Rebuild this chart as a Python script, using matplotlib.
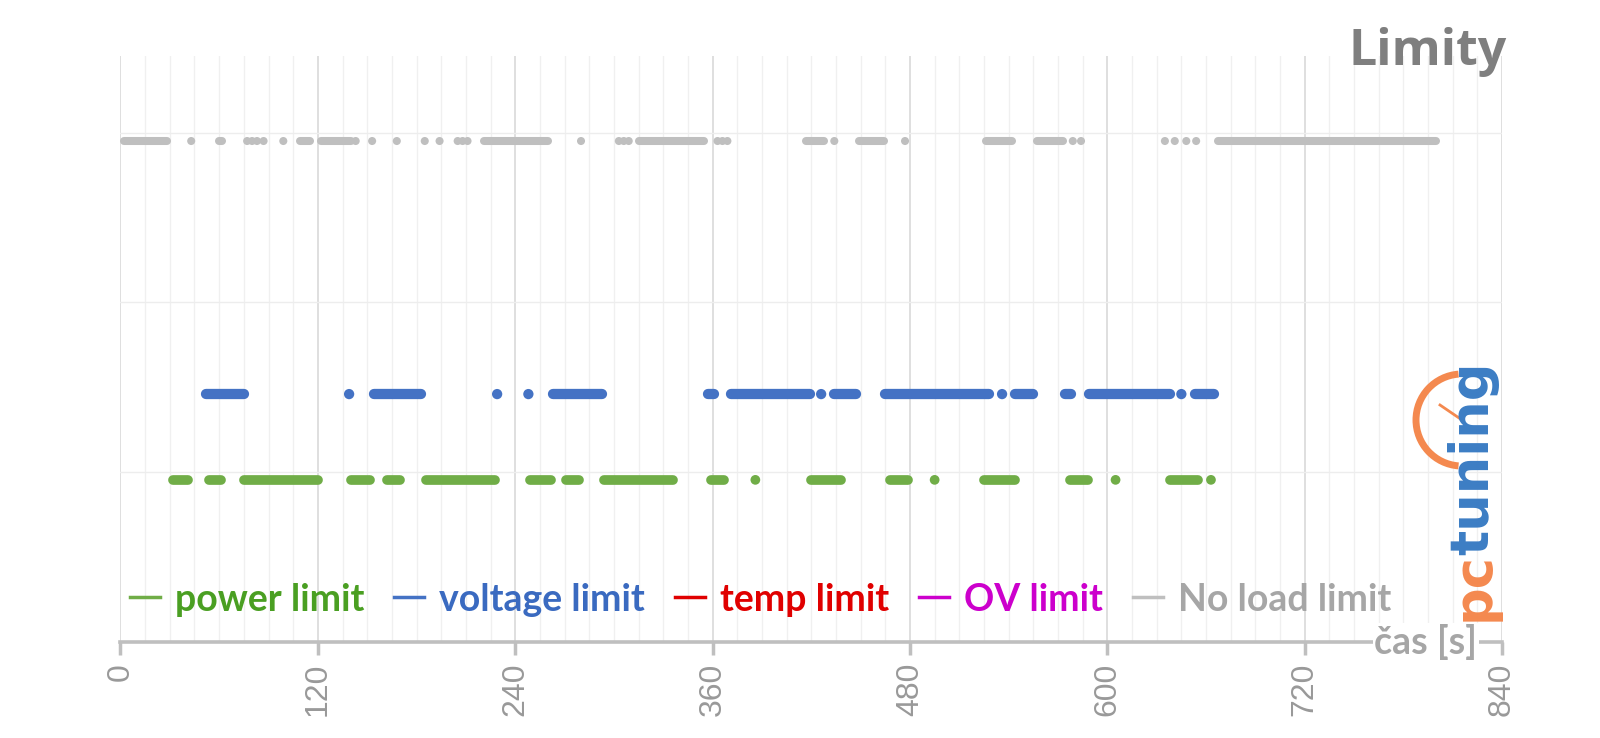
import numpy as np
import matplotlib.pyplot as plt
from matplotlib.lines import Line2D
from matplotlib.patches import Arc

# úseky (start, konec) v sekundách, kdy byl limit aktivní
power_runs = [(32, 41), (54, 61), (75, 120), (140, 152), (162, 170), (186, 228),
              (249, 262), (271, 279), (294, 336), (359, 367), (386, 386),
              (420, 438), (468, 479), (495, 495), (525, 544), (577, 588),
              (605, 605), (638, 655), (663, 663)]
voltage_runs = [(52, 75), (139, 139), (154, 183), (229, 229), (248, 248),
                (263, 293), (357, 361), (371, 419), (426, 426), (434, 447),
                (465, 528), (536, 536), (544, 555), (574, 578), (589, 638),
                (645, 645), (653, 665)]
noload_runs = [(2, 28), (43, 43), (60, 62), (77, 77), (80, 80), (83, 83), (87, 87),
               (99, 99), (109, 115), (122, 140), (143, 143), (153, 153), (168, 168),
               (185, 185), (194, 194), (205, 205), (208, 208), (211, 211),
               (221, 260), (280, 280), (303, 303), (306, 306), (309, 309),
               (315, 355), (363, 363), (366, 366), (369, 369), (417, 428),
               (434, 434), (449, 464), (477, 477), (526, 542), (557, 573),
               (579, 579), (584, 584), (635, 635), (641, 641), (648, 648),
               (654, 654), (667, 800)]
temp_runs = []
ov_runs = []

series_names = ["power limit", "voltage limit", "temp limit", "OV limit", "No load limit"]
series_runs = [power_runs, voltage_runs, temp_runs, ov_runs, noload_runs]
series_y = [0.955, 1.46, 2.0, 2.5, 2.95]
line_colors = ["#70AD47", "#4472C4", "#E00000", "#CC00CC", "#BFBFBF"]
text_colors = ["#4A9F22", "#3A6AC0", "#E00000", "#CC00CC", "#A6A6A6"]
dot_size = [7.0, 7.4, 7.0, 7.0, 5.8]

x_ticks = [0, 120, 240, 360, 480, 600, 720, 840]

fig = plt.figure(figsize=(16, 7.38), dpi=100)
ax = fig.add_axes([0.0753, 0.130, 0.8635, 0.794])

for runs, y, c, d in zip(series_runs, series_y, line_colors, dot_size):
    for s, e in runs:
        if s == e:
            ax.scatter([s], [y], s=d ** 2, color=c, edgecolors="none", zorder=3)
        else:
            ax.plot([s, e], [y, y], color=c, lw=d, solid_capstyle="round", zorder=3)

ax.set_xlim(0, 840)
ax.set_ylim(0, 3.45)
ax.set_xticks(x_ticks)
ax.set_xticks(np.arange(0, 841, 15), minor=True)
ax.set_yticks([1, 2, 3])
ax.tick_params(axis="y", left=False, labelleft=False)
ax.tick_params(axis="x", which="minor", length=0)
ax.tick_params(axis="x", which="major", length=9, width=2.5, color="#BFBFBF",
               labelrotation=90, labelsize=23, labelcolor="#999999", pad=6)
for lab in ax.get_xticklabels():
    lab.set_family("Liberation Sans")

ax.grid(axis="x", which="major", color="#D9D9D9", lw=1.2, zorder=0)
ax.grid(axis="x", which="minor", color="#F0F0F0", lw=1.0, zorder=0)
ax.grid(axis="y", which="major", color="#EDEDED", lw=1.0, zorder=0)
ax.set_axisbelow(True)
for sp in ["top", "right", "left"]:
    ax.spines[sp].set_visible(False)
ax.spines["bottom"].set_color("#BFBFBF")
ax.spines["bottom"].set_linewidth(2.6)

# legenda
handles = [Line2D([], [], color=c, lw=2.5) for c in line_colors]
leg = ax.legend(handles, series_names, loc="lower left", bbox_to_anchor=(-0.004, 0.018),
                ncol=5, frameon=False, handlelength=0.8, handletextpad=0.4,
                columnspacing=0.8, borderaxespad=0,
                prop={"family": "Lato", "weight": "bold", "size": 27})
for t, c in zip(leg.get_texts(), text_colors):
    t.set_color(c)

# název a popis osy
fig.text(0.942, 0.912, "Limity", ha="right", va="baseline", fontsize=36,
         fontweight="bold", color="#7F7F7F", family="Open Sans")
ax.text(0.982, 0.0, "čas [s]", transform=ax.transAxes, ha="right", va="center",
        fontsize=27, fontweight="bold", color="#A6A6A6", family="Lato",
        bbox=dict(facecolor="white", edgecolor="none", pad=1), zorder=5)

# logo pctuning
t_pc = fig.text(0.921, 0.158, "pc", rotation=90, ha="center", va="bottom", fontsize=38,
                fontweight="bold", color="#F4894F", family="DejaVu Sans")
renderer = fig.canvas.get_renderer()
bb = t_pc.get_window_extent(renderer).transformed(fig.transFigure.inverted())
fig.text(0.921, bb.y1 - 0.004, "tuning", rotation=90, ha="center", va="bottom",
         fontsize=38, fontweight="bold", color="#3C7DC4", family="DejaVu Sans")
cx, cy, r = 1462 / 1600, 1 - 420 / 738, 46
fig.patches.append(Arc((cx, cy), 2 * r / 1600, 2 * r / 738, theta1=92, theta2=268,
                       transform=fig.transFigure, color="#F4894F", lw=5))
fig.lines.append(Line2D([cx, cx - 22 / 1600], [cy, cy + 15 / 738],
                        transform=fig.transFigure, color="#F4894F", lw=2))

fig.savefig("out.png", dpi=100, facecolor="white")
